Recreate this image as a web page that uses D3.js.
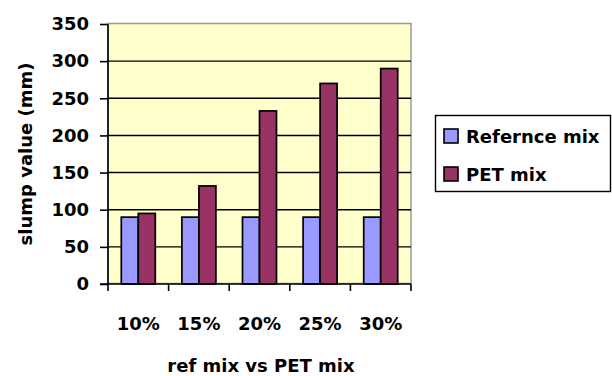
<!DOCTYPE html>
<html>
<head>
<meta charset="utf-8">
<script src="https://cdnjs.cloudflare.com/ajax/libs/d3/7.8.5/d3.min.js"></script>
<style>
  body { margin: 0; background: #fff; }
  text { font-family: "DejaVu Sans", sans-serif; font-weight: bold; fill: #000; }
</style>
</head>
<body>
<div id="chart"></div>
<script>
(function() {
    const width = 612
    const height = 376

    // data
    const categories = ["10%", "15%", "20%", "25%", "30%"]
    const series = ["Refernce mix", "PET mix"]
    const refValues = [90, 90, 90, 90, 90]
    const petValues = [95, 132, 233, 270, 290]
    const yTicks = [0, 50, 100, 150, 200, 250, 300, 350]
    const colors = ["#9999ff", "#993366"]

    const margin = {left: 108, top: 24, right: 411, bottom: 284}

    const svg = d3.select("#chart")
        .append("svg")
        .attr("width", width)
        .attr("height", height)

    const x = d3.scaleBand()
        .domain(categories)
        .range([margin.left, margin.right])

    const x1 = d3.scaleBand()
        .domain(series)
        .range([0, 34])

    const y = d3.scaleLinear()
        .domain([0, 350])
        .range([margin.bottom, margin.top])

    // plot background
    svg.append("rect")
        .attr("x", margin.left)
        .attr("y", margin.top - 0.5)
        .attr("width", margin.right - margin.left)
        .attr("height", margin.bottom - margin.top)
        .attr("fill", "#ffffcc")
        .attr("stroke", "#999")
        .attr("stroke-width", 1.5)

    // gridlines
    svg.selectAll(".grid")
        .data(yTicks.filter(d => d > 0 && d < 350))
        .join("line")
        .attr("x1", margin.left)
        .attr("x2", margin.right)
        .attr("y1", d => y(d))
        .attr("y2", d => y(d))
        .attr("stroke", "#000")
        .attr("stroke-width", 1.4)

    // bars
    const rows = categories.map((c, i) => ({cat: c, vals: [refValues[i], petValues[i]]}))
    const groups = svg.selectAll(".grp")
        .data(rows)
        .join("g")
        .attr("transform", d => "translate(" + (x(d.cat) + (x.bandwidth() - 34) / 2) + ",0)")

    groups.selectAll("rect")
        .data(d => d.vals.map((v, j) => ({s: series[j], v: v, j: j})))
        .join("rect")
        .attr("x", d => x1(d.s))
        .attr("y", d => y(d.v))
        .attr("width", x1.bandwidth())
        .attr("height", d => y(0) - y(d.v))
        .attr("fill", d => colors[d.j])
        .attr("stroke", "#000")
        .attr("stroke-width", 1.7)

    // y axis
    const yAxis = svg.append("g")
        .attr("transform", "translate(" + margin.left + ",0)")
        .call(d3.axisLeft(y).tickValues(yTicks).tickSize(8).tickPadding(11))
    yAxis.selectAll("line, path").attr("stroke", "#000").attr("stroke-width", 1.6)
    yAxis.select(".domain").attr("d", "M0," + margin.top + "V" + margin.bottom)
    yAxis.selectAll("text")
        .style("font-size", "18px")
        .style("font-family", "'DejaVu Sans', sans-serif")
        .style("font-weight", "bold")

    // x axis
    const xAxis = svg.append("g")
        .attr("transform", "translate(0," + margin.bottom + ")")
    xAxis.append("line")
        .attr("x1", margin.left - 8).attr("x2", margin.right)
        .attr("stroke", "#000").attr("stroke-width", 1.6)
    xAxis.selectAll(".tk")
        .data(categories.concat(["end"]))
        .join("line")
        .attr("x1", (d, i) => margin.left + i * x.bandwidth())
        .attr("x2", (d, i) => margin.left + i * x.bandwidth())
        .attr("y1", 0).attr("y2", 7)
        .attr("stroke", "#000").attr("stroke-width", 1.6)
    xAxis.selectAll(".lbl")
        .data(categories)
        .join("text")
        .attr("x", d => x(d) + x.bandwidth() / 2)
        .attr("y", 46)
        .attr("text-anchor", "middle")
        .style("font-size", "18px")
        .text(d => d)

    // axis titles
    svg.append("text")
        .attr("x", 261)
        .attr("y", 372)
        .attr("text-anchor", "middle")
        .style("font-size", "18px")
        .text("ref mix vs PET mix")

    svg.append("text")
        .attr("transform", "translate(32,154) rotate(-90)")
        .attr("text-anchor", "middle")
        .style("font-size", "18px")
        .text("slump value (mm)")

    // legend
    const lg = svg.append("g")
    lg.append("rect")
        .attr("x", 435.5).attr("y", 115.5)
        .attr("width", 175).attr("height", 76)
        .attr("fill", "#fff").attr("stroke", "#000").attr("stroke-width", 1.4)
    series.forEach((s, i) => {
        lg.append("rect")
            .attr("x", 444).attr("y", 129 + i * 38)
            .attr("width", 14).attr("height", 14)
            .attr("fill", colors[i]).attr("stroke", "#000").attr("stroke-width", 1.6)
        lg.append("text")
            .attr("x", 466).attr("y", 143 + i * 38)
            .style("font-size", "18px")
            .text(s)
    })
})();
</script>
</body>
</html>
